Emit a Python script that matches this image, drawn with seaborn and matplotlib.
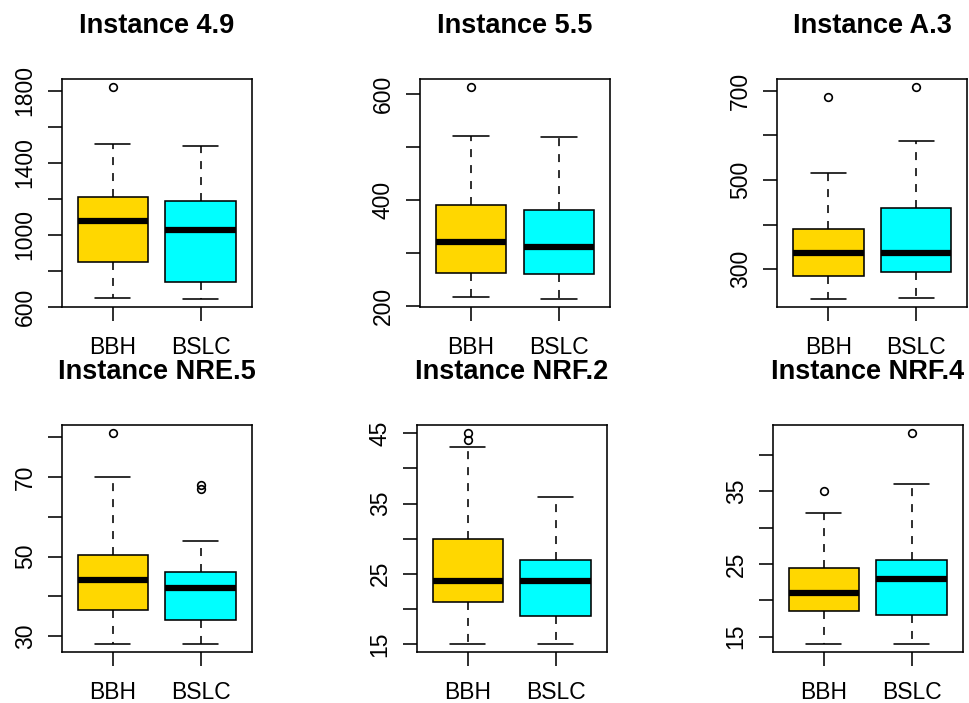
import matplotlib
matplotlib.use("Agg")
import matplotlib.pyplot as plt
import seaborn as sns

# ---------------- data ----------------
groups = ["BBH", "BSLC"]
colors = ["#FFD700", "#00FFFF"]
titles = ["Instance 4.9", "Instance 5.5", "Instance A.3",
          "Instance NRE.5", "Instance NRF.2", "Instance NRF.4"]

# five-number summaries: [lower whisker, Q1, median, Q3, upper whisker]
i49_bbh = [648, 851, 1078, 1209, 1506]
i49_bslc = [644, 740, 1028, 1185, 1494]
i49_out_bbh = [1817]
i49_out_bslc = []

i55_bbh = [217, 261, 320, 390, 522]
i55_bslc = [213, 260, 312, 382, 520]
i55_out_bbh = [613]
i55_out_bslc = []

a3_bbh = [234, 285, 336, 391, 515]
a3_bslc = [236, 295, 336, 438, 587]
a3_out_bbh = [685]
a3_out_bslc = [707]

nre5_bbh = [28, 36.5, 44, 50.5, 70]
nre5_bslc = [28, 34, 42, 46, 54]
nre5_out_bbh = [81]
nre5_out_bslc = [67, 68]

nrf2_bbh = [15, 21, 24, 30, 43]
nrf2_bslc = [15, 19, 24, 27, 36]
nrf2_out_bbh = [44, 45]
nrf2_out_bslc = []

nrf4_bbh = [14, 18.5, 21, 24.5, 32]
nrf4_bslc = [14, 18, 23, 25.5, 36]
nrf4_out_bbh = [35]
nrf4_out_bslc = [43]

# y ticks and their labels (R drops overlapping labels)
yt49 = [600, 800, 1000, 1200, 1400, 1600, 1800]
yl49 = ["600", "", "1000", "", "1400", "", "1800"]
yt55 = [200, 300, 400, 500, 600]
yl55 = ["200", "", "400", "", "600"]
yta3 = [300, 400, 500, 600, 700]
yla3 = ["300", "", "500", "", "700"]
ytnre5 = [30, 40, 50, 60, 70, 80]
ylnre5 = ["30", "", "50", "", "70", ""]
ytnrf2 = [15, 20, 25, 30, 35, 40, 45]
ylnrf2 = ["15", "", "25", "", "35", "", "45"]
ytnrf4 = [15, 20, 25, 30, 35, 40]
ylnrf4 = ["15", "", "25", "", "35", ""]

panels = [
    (i49_bbh, i49_bslc, i49_out_bbh, i49_out_bslc, yt49, yl49),
    (i55_bbh, i55_bslc, i55_out_bbh, i55_out_bslc, yt55, yl55),
    (a3_bbh, a3_bslc, a3_out_bbh, a3_out_bslc, yta3, yla3),
    (nre5_bbh, nre5_bslc, nre5_out_bbh, nre5_out_bslc, ytnre5, ylnre5),
    (nrf2_bbh, nrf2_bslc, nrf2_out_bbh, nrf2_out_bslc, ytnrf2, ylnrf2),
    (nrf4_bbh, nrf4_bslc, nrf4_out_bbh, nrf4_out_bslc, ytnrf4, ylnrf4),
]

# ---------------- style ----------------
sns.set_style("ticks")
plt.rcParams["font.family"] = ["Liberation Sans", "DejaVu Sans"]
plt.rcParams["text.color"] = "black"

W, H = 969, 703
fig = plt.figure(figsize=(W / 100, H / 100), dpi=100)

# axes boxes in pixels (left, top, right, bottom)
boxes = [
    (61.7, 79, 251.7, 307.3),
    (420.0, 79, 610.0, 307.3),
    (777.3, 79, 967.3, 307.3),
    (61.7, 425, 251.7, 652.3),
    (416.7, 425, 606.7, 652.3),
    (772.7, 425, 962.7, 652.3),
]

lw = 1.15
for (l, t, r, b), title, (s1, s2, o1, o2, yt, yl) in zip(boxes, titles, panels):
    ax = fig.add_axes([l / W, 1 - b / H, (r - l) / W, (b - t) / H])
    stats = []
    for name, s, o in zip(groups, (s1, s2), (o1, o2)):
        stats.append(dict(label=name, whislo=s[0], q1=s[1], med=s[2],
                          q3=s[3], whishi=s[4], fliers=o))
    bp = ax.bxp(stats, positions=[1, 2], widths=0.8, capwidths=0.4,
                patch_artist=True, showfliers=True,
                boxprops=dict(edgecolor="black", linewidth=lw),
                medianprops=dict(color="black", linewidth=4.5,
                                 solid_capstyle="butt"),
                whiskerprops=dict(color="black", linewidth=lw,
                                  linestyle=(0, (5, 5))),
                capprops=dict(color="black", linewidth=lw),
                flierprops=dict(marker="o", markersize=5.5,
                                markerfacecolor="none",
                                markeredgecolor="black",
                                markeredgewidth=1.2))
    for patch, c in zip(bp["boxes"], colors):
        patch.set_facecolor(c)

    allv = list(s1) + list(s2) + list(o1) + list(o2)
    lo, hi = min(allv), max(allv)
    pad = (hi - lo) * 0.04
    ax.set_ylim(lo - pad, hi + pad)
    ax.set_xlim(0.42, 2.58)

    ax.set_xticks([1, 2])
    ax.set_xticklabels(groups)
    ax.set_yticks(yt)
    ax.set_yticklabels(yl, rotation=90, va="center")
    ax.tick_params(axis="both", which="major", length=10, width=lw,
                   color="black", labelsize=16.5, labelcolor="black",
                   direction="out")
    ax.tick_params(axis="x", pad=11)
    ax.tick_params(axis="y", pad=8)
    for sp in ax.spines.values():
        sp.set_visible(True)
        sp.set_color("black")
        sp.set_linewidth(lw)
    ax.set_facecolor("white")
    ax.set_title(title, fontsize=19.5, fontweight="bold", pad=33,
                 color="black")

fig.savefig("out.png", dpi=100, facecolor="white")
